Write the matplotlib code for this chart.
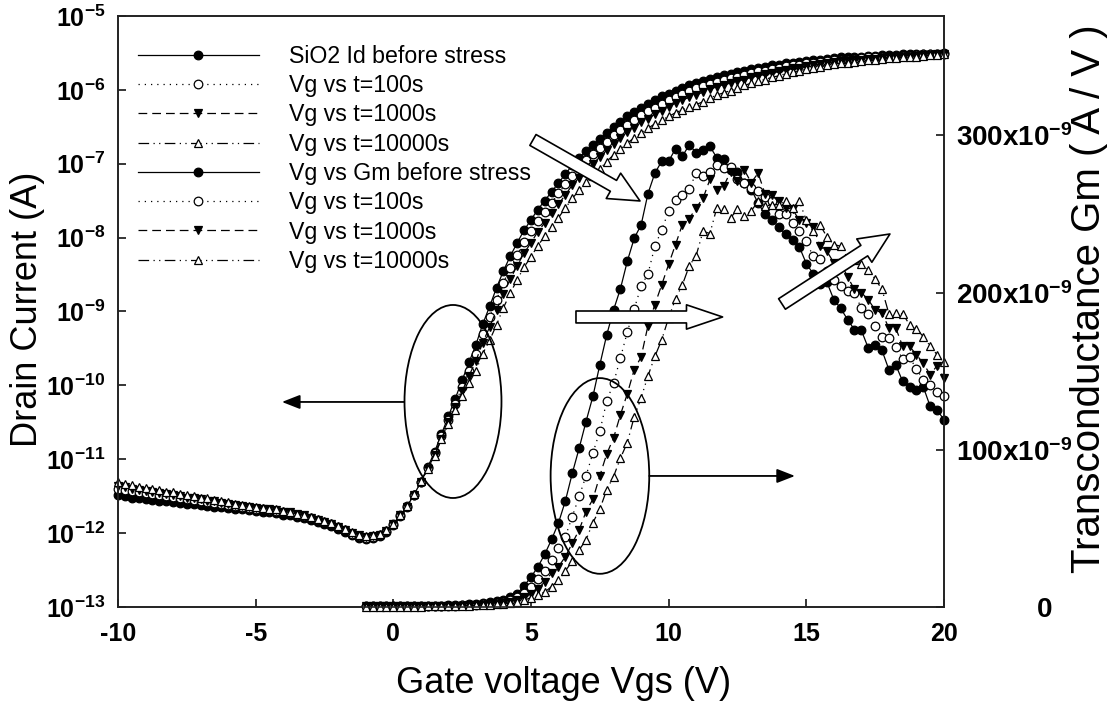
import numpy as np
import matplotlib
matplotlib.use("Agg")
import matplotlib.pyplot as plt
from matplotlib.patches import Ellipse, FancyArrowPatch
from matplotlib.transforms import ScaledTranslation

plt.rcParams["font.family"] = ["Liberation Sans", "DejaVu Sans"]
plt.rcParams["mathtext.fontset"] = "custom"
plt.rcParams["mathtext.rm"] = "Liberation Sans"
plt.rcParams["mathtext.bf"] = "Liberation Sans:bold"

# gate sweep (0.25 V steps)
vgs_id = np.linspace(-10, 20, 121)
vgs_gm = np.linspace(-1, 20, 85)

# log10 of drain current (A), one row per volt
id_before = [
    -11.49, -11.50, -11.52, -11.53, -11.54, -11.55, -11.56, -11.57,
    -11.58, -11.59, -11.60, -11.61, -11.62, -11.63, -11.64, -11.65,
    -11.66, -11.67, -11.68, -11.69, -11.70, -11.71, -11.72, -11.73,
    -11.75, -11.76, -11.78, -11.80, -11.82, -11.85, -11.88, -11.91,
    -11.95, -11.99, -12.03, -12.06, -12.08, -12.07, -12.04, -11.98,
    -11.89, -11.77, -11.64, -11.48, -11.31, -11.11, -10.90, -10.66,
    -10.42, -10.18, -9.93, -9.69, -9.45, -9.17, -8.93, -8.68,
    -8.45, -8.25, -8.07, -7.90, -7.76, -7.62, -7.50, -7.38,
    -7.26, -7.14, -7.02, -6.92, -6.83, -6.75, -6.67, -6.58,
    -6.50, -6.43, -6.36, -6.30, -6.24, -6.19, -6.14, -6.09,
    -6.05, -6.01, -5.97, -5.94, -5.91, -5.88, -5.85, -5.82,
    -5.80, -5.78, -5.76, -5.74, -5.72, -5.70, -5.69, -5.67,
    -5.66, -5.64, -5.63, -5.62, -5.61, -5.60, -5.59, -5.58,
    -5.57, -5.56, -5.56, -5.55, -5.55, -5.54, -5.54, -5.53,
    -5.53, -5.53, -5.52, -5.52, -5.52, -5.51, -5.51, -5.51,
    -5.50,
]
id_100 = [
    -11.40, -11.41, -11.43, -11.44, -11.46, -11.47, -11.48, -11.50,
    -11.51, -11.52, -11.54, -11.55, -11.56, -11.58, -11.59, -11.60,
    -11.62, -11.63, -11.65, -11.66, -11.67, -11.68, -11.69, -11.70,
    -11.72, -11.73, -11.75, -11.77, -11.79, -11.82, -11.85, -11.88,
    -11.92, -11.96, -12.01, -12.04, -12.06, -12.05, -12.03, -11.97,
    -11.88, -11.76, -11.63, -11.48, -11.31, -11.12, -10.92, -10.69,
    -10.47, -10.25, -10.02, -9.80, -9.58, -9.31, -9.08, -8.84,
    -8.61, -8.41, -8.23, -8.06, -7.91, -7.77, -7.65, -7.53,
    -7.40, -7.28, -7.16, -7.05, -6.95, -6.87, -6.79, -6.70,
    -6.61, -6.54, -6.47, -6.41, -6.34, -6.29, -6.24, -6.19,
    -6.14, -6.10, -6.05, -6.02, -5.98, -5.95, -5.92, -5.89,
    -5.86, -5.84, -5.82, -5.80, -5.77, -5.75, -5.74, -5.72,
    -5.70, -5.68, -5.67, -5.66, -5.64, -5.63, -5.62, -5.61,
    -5.60, -5.59, -5.59, -5.58, -5.57, -5.56, -5.56, -5.55,
    -5.55, -5.55, -5.54, -5.54, -5.53, -5.52, -5.52, -5.52,
    -5.51,
]
id_1000 = [
    -11.36, -11.38, -11.40, -11.41, -11.43, -11.44, -11.46, -11.47,
    -11.49, -11.50, -11.52, -11.53, -11.54, -11.56, -11.57, -11.59,
    -11.60, -11.62, -11.63, -11.65, -11.66, -11.67, -11.68, -11.69,
    -11.71, -11.72, -11.74, -11.76, -11.79, -11.82, -11.85, -11.88,
    -11.92, -11.96, -12.00, -12.03, -12.05, -12.04, -12.02, -11.97,
    -11.88, -11.76, -11.64, -11.48, -11.31, -11.13, -10.94, -10.72,
    -10.50, -10.29, -10.08, -9.87, -9.67, -9.42, -9.21, -8.98,
    -8.76, -8.56, -8.38, -8.21, -8.07, -7.92, -7.80, -7.67,
    -7.55, -7.42, -7.29, -7.19, -7.09, -7.00, -6.91, -6.82,
    -6.73, -6.65, -6.57, -6.51, -6.44, -6.39, -6.33, -6.28,
    -6.23, -6.18, -6.14, -6.10, -6.07, -6.03, -5.99, -5.96,
    -5.93, -5.91, -5.88, -5.86, -5.83, -5.81, -5.79, -5.77,
    -5.75, -5.73, -5.71, -5.70, -5.68, -5.67, -5.65, -5.64,
    -5.62, -5.61, -5.61, -5.60, -5.59, -5.58, -5.58, -5.57,
    -5.56, -5.56, -5.55, -5.55, -5.54, -5.53, -5.53, -5.52,
    -5.51,
]
id_10000 = [
    -11.31, -11.33, -11.35, -11.37, -11.39, -11.40, -11.42, -11.44,
    -11.45, -11.47, -11.49, -11.50, -11.52, -11.53, -11.55, -11.57,
    -11.58, -11.60, -11.62, -11.63, -11.65, -11.66, -11.67, -11.68,
    -11.70, -11.72, -11.74, -11.76, -11.78, -11.81, -11.84, -11.87,
    -11.91, -11.95, -11.99, -12.02, -12.04, -12.03, -12.01, -11.96,
    -11.88, -11.76, -11.63, -11.47, -11.30, -11.13, -10.95, -10.73,
    -10.52, -10.34, -10.15, -9.97, -9.80, -9.57, -9.39, -9.18,
    -8.95, -8.75, -8.57, -8.40, -8.26, -8.11, -7.98, -7.85,
    -7.73, -7.60, -7.47, -7.36, -7.25, -7.16, -7.07, -6.97,
    -6.88, -6.80, -6.72, -6.65, -6.58, -6.52, -6.46, -6.41,
    -6.36, -6.31, -6.27, -6.23, -6.20, -6.16, -6.11, -6.07,
    -6.04, -6.01, -5.98, -5.94, -5.91, -5.88, -5.86, -5.83,
    -5.81, -5.78, -5.76, -5.74, -5.72, -5.70, -5.69, -5.67,
    -5.65, -5.64, -5.63, -5.62, -5.61, -5.60, -5.59, -5.58,
    -5.57, -5.57, -5.56, -5.56, -5.55, -5.54, -5.53, -5.53,
    -5.52,
]

# transconductance (x10^-9 A/V), from -1 V, one row per volt
gm_before = [
    0.5, 0.5, 0.5, 0.5, 0.5, 0.5, 0.5, 0.6, 0.6, 0.7, 0.8, 0.9,
    1.0, 1.2, 1.4, 1.7, 2.0, 2.4, 2.9, 3.6, 4.5, 6.3, 8.5, 13.5,
    19, 25.5, 33.5, 43, 53.5, 67.5, 85, 101, 118, 134, 154, 173,
    189, 202.5, 220, 234.6, 243, 263, 276, 283.6, 283.6, 291.5, 286.8, 294,
    289, 290.6, 293, 285.8, 285, 278, 277, 270, 265.6, 257, 249.7, 246.5,
    241.8, 237, 233.3, 229, 218.5, 212, 205.7, 206.6, 195.5, 190, 182.8, 176.4,
    176, 164.8, 166.9, 163.2, 151, 154, 143.5, 140, 138, 140, 127.6, 125.5,
    119,
]
gm_100 = [
    0.4, 0.4, 0.4, 0.4, 0.4, 0.4, 0.4, 0.5, 0.5, 0.5, 0.6, 0.7,
    0.8, 0.9, 1.0, 1.2, 1.5, 1.8, 2.2, 2.7, 3.3, 4.5, 6.3, 9.0,
    12.5, 17.6, 23, 30, 37.4, 44.8, 57.5, 70.3, 83.4, 98, 111.7, 130.8,
    142.5, 158.4, 175, 189.6, 204, 212, 229.5, 240, 251.8, 258.8, 261.8, 266,
    276, 274, 276.6, 281, 279.4, 280, 272, 270, 266.6, 264.5, 261, 258,
    249.7, 249.7, 244, 239, 232.7, 223, 221.5, 214, 208, 204, 201, 200,
    190, 186.6, 178.5, 172, 171, 165.4, 157.8, 159, 151.4, 144.6, 141, 136.5,
    134.4,
]
gm_1000 = [
    0.4, 0.4, 0.4, 0.4, 0.4, 0.4, 0.4, 0.4, 0.5, 0.5, 0.5, 0.6,
    0.7, 0.8, 0.9, 1.0, 1.2, 1.4, 1.7, 2.1, 2.6, 3.4, 4.5, 6.3,
    8.5, 11.5, 16, 21.5, 25.7, 32, 40.6, 49, 60.7, 68.6, 83.4, 97.3,
    107.5, 122.3, 135.7, 151, 159, 179, 192.4, 205, 218, 230.6, 243.3, 247,
    254, 260, 272, 265, 267.7, 277, 271, 278, 270, 276, 263, 262,
    258, 254, 253, 246, 244, 242, 229.5, 226.3, 219, 219, 210, 202,
    200, 195.5, 189, 187, 177.5, 177.5, 165.8, 165.8, 160.5, 155, 147.8, 153.5,
    145.7,
]
gm_10000 = [
    0.3, 0.3, 0.3, 0.3, 0.3, 0.3, 0.3, 0.3, 0.3, 0.4, 0.4, 0.5,
    0.5, 0.6, 0.7, 0.8, 1.0, 1.2, 1.4, 1.7, 2.1, 2.6, 3.3, 4.2,
    6.0, 7.5, 9.5, 13, 17, 23, 29, 36.3, 42.7, 53.7, 62.2, 74.5,
    83, 94.7, 104.6, 121, 133, 147, 159.4, 170, 184, 196, 205, 217,
    223.6, 239, 237.6, 254, 253.5, 247.6, 252.9, 249, 252, 258, 255, 256,
    256, 258, 254, 258, 246, 239, 243, 235.5, 230.6, 229.5, 222, 221,
    218, 214.6, 208.7, 202, 186.6, 187, 186.6, 179.6, 177, 172, 166, 160.5,
    155.6,
]

labels = ["SiO2 Id before stress", "Vg vs t=100s", "Vg vs t=1000s", "Vg vs t=10000s",
          "Vg vs Gm before stress", "Vg vs t=100s", "Vg vs t=1000s", "Vg vs t=10000s"]

styles = [
    ("-", "o", "black"),
    ((0, (1, 4)), "o", "white"),
    ((0, (7, 4)), "v", "black"),
    ((0, (8.5, 3.5, 1, 3.5, 1, 3.5)), "^", "white"),
]

fig = plt.figure(figsize=(11.15, 7.13), dpi=100)
ax = fig.add_axes([0.1058, 0.1487, 0.7408, 0.8289])
ax2 = ax.twinx()

handles = []
for data, (ls, mk, fc) in zip([id_before, id_100, id_1000, id_10000], styles):
    h, = ax.plot(vgs_id, 10 ** np.array(data), linestyle=ls, marker=mk, color="black",
                 mfc=fc, mec="black", ms=6.2, mew=0.9, lw=0.9, clip_on=False)
    handles.append(h)
for data, (ls, mk, fc) in zip([gm_before, gm_100, gm_1000, gm_10000], styles):
    h, = ax2.plot(vgs_gm, data, linestyle=ls, marker=mk, color="black",
                  mfc=fc, mec="black", ms=6.2, mew=0.9, lw=0.9, clip_on=False)
    handles.append(h)

ax.set_xlim(-10, 20)
ax.set_yscale("log")
ax.set_ylim(1e-13, 1e-5)
ax.set_xticks([-10, -5, 0, 5, 10, 15, 20])
ax.set_xticklabels(["-10", "-5", "0", "5", "10", "15", "20"], fontweight="bold")
ax.set_yticks([10.0 ** e for e in range(-13, -4)])
ax.set_yticklabels([r"$\mathbf{10^{%d}}$" % e for e in range(-13, -4)])
ax.yaxis.set_minor_locator(matplotlib.ticker.NullLocator())

ax2.set_ylim(0, 376)
ax2.set_yticks([0, 100, 200, 300])
ax2.set_yticklabels([r"$\mathbf{0}$", r"$\mathbf{100x10^{-9}}$",
                     r"$\mathbf{200x10^{-9}}$", r"$\mathbf{300x10^{-9}}$"])

ax.tick_params(axis="x", direction="in", length=6, width=1.1, labelsize=18, pad=11)
ax.tick_params(axis="y", direction="in", length=6, width=1.1, labelsize=18, pad=9)
ax2.tick_params(axis="y", direction="in", length=6, width=1.1, labelsize=20, pad=9)
for a in (ax, ax2):
    for s in a.spines.values():
        s.set_linewidth(1.2)
        s.set_color("#222222")

# the "0" on the right axis sits further right
lab0 = ax2.get_yticklabels()[0]
lab0.set_transform(lab0.get_transform() + ScaledTranslation(0.8, 0, fig.dpi_scale_trans))

ax.set_xlabel("Gate voltage Vgs (V)", fontsize=26)
ax.xaxis.set_label_coords(0.539, -0.1)
ax.set_ylabel("Drain Current (A)", fontsize=26)
ax.yaxis.set_label_coords(-0.088, 0.504)
ax2.set_ylabel("Transconductance Gm ( A / V )", fontsize=29)
ax2.yaxis.set_label_coords(1.153, 0.522)

ax2.legend(handles, labels, loc="upper left", bbox_to_anchor=(0.0242, 0.951),
           frameon=False, fontsize=16.7, handlelength=5.2, handletextpad=1.3,
           labelspacing=0.27, borderpad=0, borderaxespad=0, numpoints=1)

# ellipses and arrows (axes fraction coordinates)
for cx, cy, w, h in [(0.4056, 0.3477, 0.1174, 0.3266), (0.5835, 0.2217, 0.1194, 0.3311)]:
    ax2.add_patch(Ellipse((cx, cy), w, h, transform=ax2.transAxes, fill=False,
                          ec="black", lw=1.3, zorder=6))

for p0, p1 in [((0.3462, 0.3469), (0.1985, 0.3469)), ((0.6432, 0.2217), (0.8196, 0.2217))]:
    ax2.add_patch(FancyArrowPatch(p0, p1, transform=ax2.transAxes,
                                  arrowstyle="-|>,head_length=11,head_width=4.3",
                                  mutation_scale=1, color="black", lw=1.3,
                                  shrinkA=0, shrinkB=0, zorder=6))

for p0, p1, hl, hw, tw in [((0.5024, 0.7902), (0.632, 0.687), 22, 21, 9),
                           ((0.5545, 0.4907), (0.732, 0.4907), 26, 17.5, 8.6),
                           ((0.8039, 0.5127), (0.9346, 0.6311), 22, 20, 9)]:
    ax2.add_patch(FancyArrowPatch(p0, p1, transform=ax2.transAxes,
                                  arrowstyle="simple,head_length=%g,head_width=%g,tail_width=%g" % (hl, hw, tw),
                                  mutation_scale=1, fc="white", ec="black", lw=1.2,
                                  shrinkA=0, shrinkB=0, zorder=7))

fig.savefig("out.png", dpi=100)
